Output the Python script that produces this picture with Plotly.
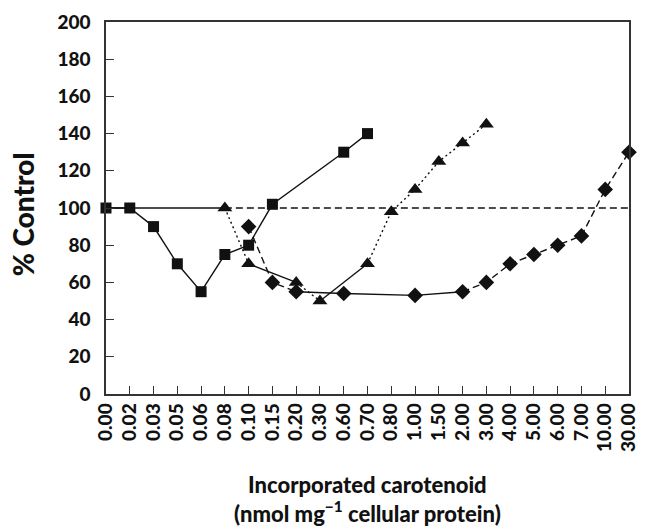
import plotly.graph_objects as go

categories = ["0.00", "0.02", "0.03", "0.05", "0.06", "0.08", "0.10", "0.15", "0.20",
              "0.30", "0.60", "0.70", "0.80", "1.00", "1.50", "2.00", "3.00", "4.00",
              "5.00", "6.00", "7.00", "10.00", "30.00"]

square_x = ["0.00", "0.02", "0.03", "0.05", "0.06", "0.08", "0.10", "0.15", "0.60", "0.70"]
square_y = [100, 100, 90, 70, 55, 75, 80, 102, 130, 140]
square_dash = ["solid"] * 9

triangle_x = ["0.08", "0.10", "0.20", "0.30", "0.70", "0.80", "1.00", "1.50", "2.00", "3.00"]
triangle_y = [100, 70, 60, 50, 70, 98, 110, 125, 135, 145]
triangle_dash = ["dot", "solid", "dot", "solid", "dot", "dot", "dot", "dot", "dot"]

diamond_x = ["0.10", "0.15", "0.20", "0.60", "1.00", "2.00", "3.00", "4.00", "5.00",
             "6.00", "7.00", "10.00", "30.00"]
diamond_y = [90, 60, 55, 54, 53, 55, 60, 70, 75, 80, 85, 110, 130]
diamond_dash = ["dash", "dash", "solid", "solid", "solid", "dash", "dash", "dash",
                "dash", "dash", "dash", "dash"]

control_x = ["0.00", "0.08", "30.00"]
control_y = [100, 100, 100]
control_dash = ["solid", "dash"]

y_title = "% Control"
x_title = "Incorporated carotenoid<br>(nmol mg<sup>\u22121</sup> cellular protein)"

DASH = {"solid": "solid", "dash": "7px,4px", "dot": "2px,3px"}
INK = "#111111"

fig = go.Figure()


def add_segments(xs, ys, dashes):
    i = 0
    n = len(dashes)
    while i < n:
        j = i
        while j + 1 < n and dashes[j + 1] == dashes[i]:
            j += 1
        fig.add_trace(go.Scatter(
            x=xs[i:j + 2], y=ys[i:j + 2], mode="lines",
            line=dict(color=INK, width=1.4, dash=DASH[dashes[i]]),
            hoverinfo="skip", showlegend=False, cliponaxis=False))
        i = j + 1


add_segments(control_x, control_y, control_dash)
add_segments(square_x, square_y, square_dash)
add_segments(triangle_x, triangle_y, triangle_dash)
add_segments(diamond_x, diamond_y, diamond_dash)

for xs, ys, sym, sz in [(diamond_x, diamond_y, "diamond", 12),
                        (triangle_x, triangle_y, "triangle-up", 13),
                        (square_x, square_y, "square", 11)]:
    fig.add_trace(go.Scatter(
        x=xs, y=ys, mode="markers",
        marker=dict(symbol=sym, size=sz, color=INK, line=dict(width=0)),
        showlegend=False, cliponaxis=False))

FONT = "Lato"
W = 900

annotations = [
    dict(text=y_title, xref="paper", yref="paper", x=-0.158, y=0.484,
         textangle=-90, showarrow=False, xanchor="center", yanchor="middle",
         borderpad=0,
         font=dict(family=FONT, size=28, color=INK, weight=W)),
    dict(text=x_title, xref="paper", yref="paper", x=0.5,
         y=(394 - 500) / 374,
         showarrow=False, xanchor="center", yanchor="middle", borderpad=0,
         font=dict(family=FONT, size=22, color=INK, weight=W)),
]

fig.update_layout(
    width=649, height=531,
    margin=dict(l=106, r=10, t=20, b=137),
    paper_bgcolor="white", plot_bgcolor="white",
    font=dict(family=FONT, color=INK, size=19, weight=W),
    xaxis=dict(
        type="category", categoryorder="array", categoryarray=categories,
        tickvals=categories, ticktext=categories,
        range=[0, len(categories) - 1],
        showgrid=False, zeroline=False,
        showline=True, linecolor="#333333", linewidth=1.5, mirror=True,
        ticks="inside", ticklen=8, tickcolor="#333333", tickwidth=1,
        tickangle=-90,
        tickfont=dict(family=FONT, size=19, color=INK, weight=W),
    ),
    yaxis=dict(
        range=[0, 200], tickvals=list(range(0, 201, 20)),
        showgrid=False, zeroline=False,
        showline=True, linecolor="#333333", linewidth=1.5, mirror=True,
        ticks="inside", ticklen=8, tickcolor="#333333", tickwidth=1,
        ticklabelstandoff=10,
        tickfont=dict(family=FONT, size=19, color=INK, weight=W),
    ),
    annotations=annotations,
)

fig.write_html("out.html")
